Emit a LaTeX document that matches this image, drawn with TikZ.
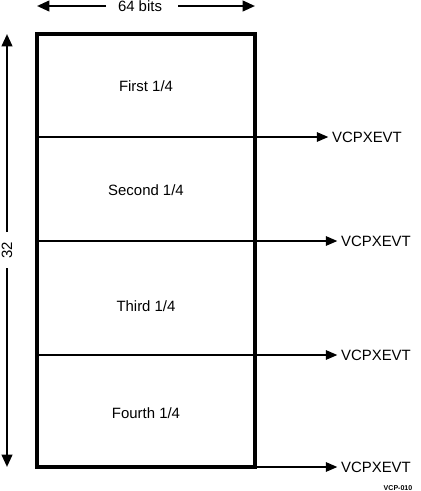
\documentclass[tikz,border=0pt]{standalone}
\usepackage{fontspec}
\setmainfont{Liberation Sans}
\usetikzlibrary{arrows.meta}

\begin{document}
\begin{tikzpicture}[x=0.02cm,y=-0.02cm]
\tikzset{lbl/.style = {font=\fontsize{8.5}{10}\selectfont, inner sep=1pt}}
\tikzset{evt/.style = {lbl, anchor=west}}
\tikzset{edge/.style = {-{Triangle[length=6.5pt,width=5.5pt]}, line width=0.6pt, shorten >=1pt}}
\tikzset{dim/.style = {-{Triangle[length=7pt,width=6pt]}, line width=1.3pt}}
\useasboundingbox (0,0) rectangle (420,491);
\coordinate (tl) at (37,34);
\coordinate (br) at (255,467);
\draw[line width=2pt] (tl) rectangle (br);

\node[lbl] (q1) at (146,86) {First 1/4};
\node[lbl] (q2) at (146,190) {Second 1/4};
\node[lbl] (q3) at (146,306) {Third 1/4};
\node[lbl] (q4) at (146,413) {Fourth 1/4};

\coordinate (s1) at (37,137);
\coordinate (s2) at (37,241);
\coordinate (s3) at (37,355);
\coordinate (s4) at (255,467);
\node[evt] (v1) at (330,137) {VCPXEVT};
\node[evt] (v2) at (339,241) {VCPXEVT};
\node[evt] (v3) at (339,355) {VCPXEVT};
\node[evt] (v4) at (339,467) {VCPXEVT};
\draw[edge] (s1) to (v1.west);
\draw[edge] (s2) to (v2.west);
\draw[edge] (s3) to (v3.west);
\draw[edge] (s4) to (v4.west);

\node[lbl] (w) at (140,6) {64 bits};
\coordinate (wl) at (37,6);
\coordinate (wr) at (255,6);
\draw[dim] (106,6) -- (wl);
\draw[dim] (178,6) -- (wr);

\node[lbl, rotate=90] (h) at (7,250) {32};
\coordinate (ht) at (7,34);
\coordinate (hb) at (7,467);
\draw[dim] (7,232) -- (ht);
\draw[dim] (7,268) -- (hb);

\node[font=\fontsize{4}{5}\selectfont\bfseries, inner sep=0pt] (id) at (398,488) {VCP-010};
\end{tikzpicture}
\end{document}
